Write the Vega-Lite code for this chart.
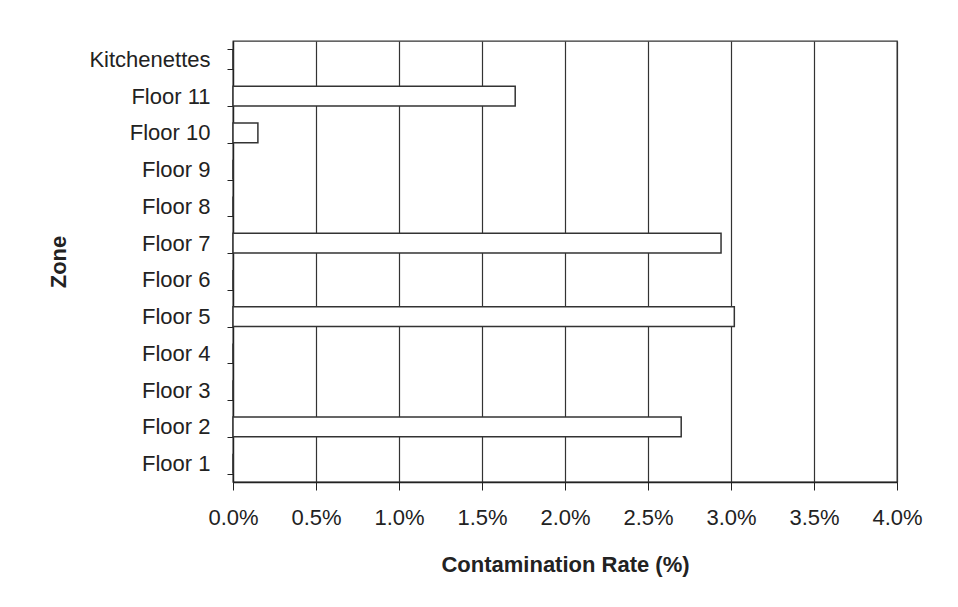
{
  "$schema": "https://vega.github.io/schema/vega-lite/v6.json",
  "width": 664,
  "height": 441,
  "autosize": {"type": "none"},
  "padding": {"left": 233, "top": 41, "right": 61, "bottom": 125},
  "background": "white",
  "config": {"view": {"stroke": "#333", "strokeWidth": 1.3}, "font": "Liberation Sans"},
  "data": {
    "values": [
      {"zone": "Kitchenettes", "rate": 0},
      {"zone": "Floor 11", "rate": 0.017},
      {"zone": "Floor 10", "rate": 0.0015},
      {"zone": "Floor 9", "rate": 0},
      {"zone": "Floor 8", "rate": 0},
      {"zone": "Floor 7", "rate": 0.0294},
      {"zone": "Floor 6", "rate": 0},
      {"zone": "Floor 5", "rate": 0.0302},
      {"zone": "Floor 4", "rate": 0},
      {"zone": "Floor 3", "rate": 0},
      {"zone": "Floor 2", "rate": 0.027},
      {"zone": "Floor 1", "rate": 0}
    ]
  },
  "mark": {"type": "bar", "fill": "white", "stroke": "#333", "strokeWidth": 1.5},
  "encoding": {
    "y": {
      "field": "zone",
      "type": "nominal",
      "sort": ["Kitchenettes", "Floor 11", "Floor 10", "Floor 9", "Floor 8", "Floor 7", "Floor 6", "Floor 5", "Floor 4", "Floor 3", "Floor 2", "Floor 1"],
      "scale": {"paddingInner": 0.46, "paddingOuter": 0.23},
      "axis": {
        "title": "Zone",
        "tickBand": "extent",
        "tickSize": 6,
        "labelPadding": 17,
        "labelFontSize": 22,
        "labelColor": "#222",
        "titleFontSize": 22,
        "titleFontWeight": "bold",
        "titleColor": "#222",
        "titlePadding": 18,
        "domainColor": "#222",
        "domainWidth": 1.3,
        "tickColor": "#222",
        "grid": false
      }
    },
    "x": {
      "field": "rate",
      "type": "quantitative",
      "scale": {"domain": [0, 0.04], "nice": false},
      "axis": {
        "title": "Contamination Rate (%)",
        "format": ".1%",
        "values": [0, 0.005, 0.01, 0.015, 0.02, 0.025, 0.03, 0.035, 0.04],
        "labelFlush": false,
        "labelOverlap": false,
        "grid": true,
        "gridColor": "#333",
        "gridOpacity": 1,
        "gridWidth": 1.2,
        "tickSize": 8,
        "labelPadding": 17,
        "labelFontSize": 22,
        "labelColor": "#222",
        "titleFontSize": 22,
        "titleFontWeight": "bold",
        "titleColor": "#222",
        "titlePadding": 26,
        "domainColor": "#222",
        "domainWidth": 1.3,
        "tickColor": "#222"
      }
    }
  }
}
